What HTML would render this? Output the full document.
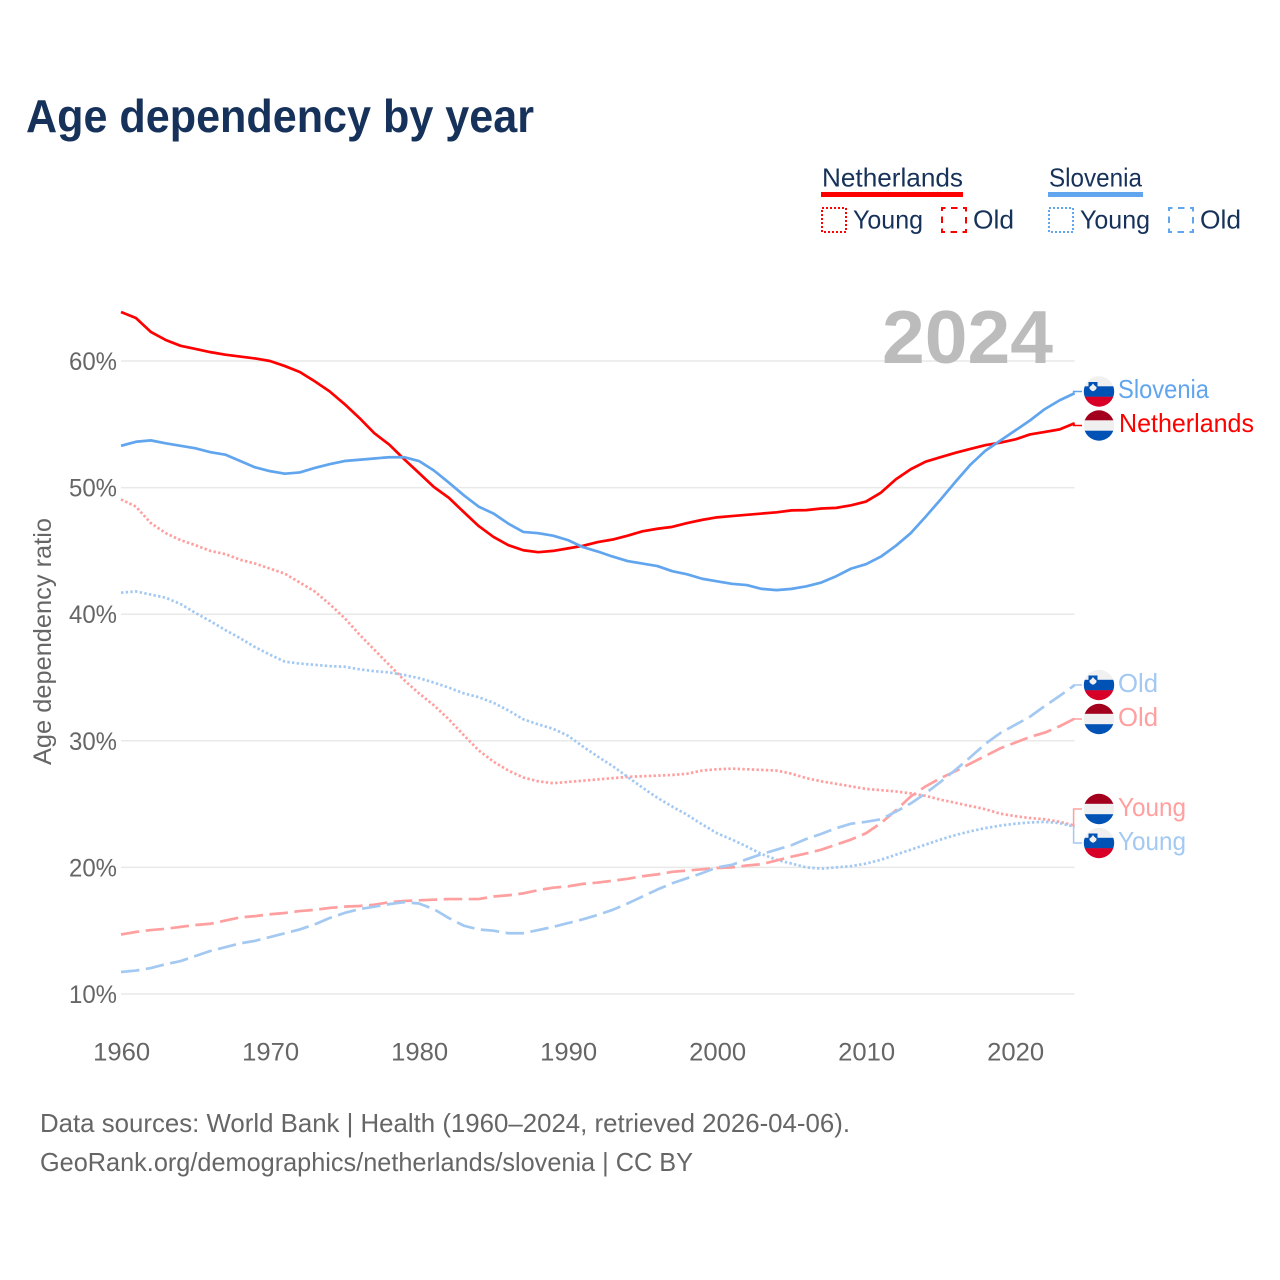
<!DOCTYPE html>
<html lang="en">
<head>
<meta charset="utf-8">
<title>Age dependency by year</title>
<style>
html,body{margin:0;padding:0;background:#fff;}
svg{display:block;font-family:"Liberation Sans",sans-serif;}
.lg{font-size:26px;fill:#17325a;}
.ax{font-size:25px;fill:#666;}
.src{font-size:26px;fill:#666;}
.lb{font-size:26px;}
</style>
</head>
<body>
<svg id="chart" width="1280" height="1280" viewBox="0 0 1280 1280" xmlns="http://www.w3.org/2000/svg">
  <defs>
    <clipPath id="flag-clip"><circle cx="0" cy="0" r="15.2"/></clipPath>
    <g id="flag-nl" clip-path="url(#flag-clip)">
      <rect x="-16" y="-16" width="32" height="11" fill="#a2001d"/>
      <rect x="-16" y="-5.2" width="32" height="10.6" fill="#f0f0f0"/>
      <rect x="-16" y="5.2" width="32" height="11" fill="#0052b4"/>
    </g>
    <g id="flag-si" clip-path="url(#flag-clip)">
      <rect x="-16" y="-16" width="32" height="11" fill="#f0f0f0"/>
      <rect x="-16" y="-5.2" width="32" height="10.6" fill="#0052b4"/>
      <rect x="-16" y="5.2" width="32" height="11" fill="#d80027"/>
      <path d="M-10.5 -9.5h9v6.5c0 2 -2.200 3.300 -4.500 4.200c-2.300 -.9 -4.500 -2.200 -4.500 -4.200z" fill="#0052b4"/>
      <path d="M-9.500 -4.500l2 -1.500l1.500 -2l1.500 2l2 1.500v1.500c-.8 1.500 -2.200 2.300 -3.500 2.700c-1.300 -.4 -2.700 -1.200 -3.500 -2.700z" fill="#f0f0f0"/>
    </g>
  </defs>

  <text x="26" y="132" font-size="46" font-weight="700" fill="#17325a" textLength="508" lengthAdjust="spacingAndGlyphs">Age dependency by year</text>

  <g>
    <g>
      <text class="lg" x="822" y="186.500" textLength="141" lengthAdjust="spacingAndGlyphs">Netherlands</text>
      <rect x="821" y="192" width="142" height="5" fill="#ff0000"/>
      <rect x="822" y="208" width="24" height="24" fill="none" stroke="#ff0000" stroke-width="2" stroke-dasharray="2 2"/>
      <text class="lg" x="853" y="228.500" textLength="70" lengthAdjust="spacingAndGlyphs">Young</text>
      <rect x="942" y="208" width="24" height="24" fill="none" stroke="#ff0000" stroke-width="2" stroke-dasharray="6.500 5.500" stroke-dashoffset="3"/>
      <text class="lg" x="973" y="228.500" textLength="41" lengthAdjust="spacingAndGlyphs">Old</text>
    </g>
    <g>
      <text class="lg" x="1049" y="186.500" textLength="93" lengthAdjust="spacingAndGlyphs">Slovenia</text>
      <rect x="1048" y="192" width="95" height="5" fill="#60a5ee"/>
      <rect x="1049" y="208" width="24" height="24" fill="none" stroke="#60a5ee" stroke-width="2" stroke-dasharray="2 2"/>
      <text class="lg" x="1080" y="228.500" textLength="70" lengthAdjust="spacingAndGlyphs">Young</text>
      <rect x="1169" y="208" width="24" height="24" fill="none" stroke="#60a5ee" stroke-width="2" stroke-dasharray="6.500 5.500" stroke-dashoffset="3"/>
      <text class="lg" x="1200" y="228.500" textLength="41" lengthAdjust="spacingAndGlyphs">Old</text>
    </g>
  </g>

  <g id="grid"></g>
  <g id="y-ticks"></g>
  <g id="x-ticks"></g>
  <text class="ax" transform="translate(51,641.500) rotate(-90)" text-anchor="middle" textLength="247" lengthAdjust="spacingAndGlyphs">Age dependency ratio</text>
  <text x="882" y="363" font-size="75" font-weight="700" fill="#bcbcbc" textLength="171" lengthAdjust="spacingAndGlyphs">2024</text>

  <g id="series"></g>
  <g id="leaders"></g>

  <g>
    <use href="#flag-si" x="1099" y="391.500"/>
    <text class="lb" x="1118" y="398" fill="#60a5ee" textLength="91" lengthAdjust="spacingAndGlyphs">Slovenia</text>
    <use href="#flag-nl" x="1099" y="425.500"/>
    <text class="lb" x="1119" y="432" fill="#ff0000" textLength="135" lengthAdjust="spacingAndGlyphs">Netherlands</text>
    <use href="#flag-si" x="1099" y="685"/>
    <text class="lb" x="1118" y="692" fill="#a3c9f3" textLength="40" lengthAdjust="spacingAndGlyphs">Old</text>
    <use href="#flag-nl" x="1099" y="719"/>
    <text class="lb" x="1118" y="726" fill="#ff9f9f" textLength="40" lengthAdjust="spacingAndGlyphs">Old</text>
    <use href="#flag-nl" x="1099" y="809"/>
    <text class="lb" x="1118" y="816" fill="#ff9f9f" textLength="68" lengthAdjust="spacingAndGlyphs">Young</text>
    <use href="#flag-si" x="1099" y="843"/>
    <text class="lb" x="1118" y="850" fill="#a3c9f3" textLength="68" lengthAdjust="spacingAndGlyphs">Young</text>
  </g>

  <g>
    <text class="src" x="40" y="1132" textLength="810" lengthAdjust="spacingAndGlyphs">Data sources: World Bank | Health (1960–2024, retrieved 2026-04-06).</text>
    <text class="src" x="40" y="1171" textLength="653" lengthAdjust="spacingAndGlyphs">GeoRank.org/demographics/netherlands/slovenia | CC BY</text>
  </g>
</svg>

<script>
const startYear = 1960;
const yTickValues = [10, 20, 30, 40, 50, 60];
const xTickValues = [1960, 1970, 1980, 1990, 2000, 2010, 2020];

const nlTotal = [63.87,63.4,62.3,61.66,61.2,60.95,60.7,60.5,60.35,60.2,60.0,59.6,59.13,58.4,57.6,56.6,55.5,54.3,53.4,52.25,51.15,50.05,49.2,48.07,46.97,46.1,45.45,45.05,44.9,45.0,45.2,45.4,45.7,45.9,46.2,46.55,46.75,46.9,47.2,47.45,47.65,47.75,47.85,47.95,48.05,48.2,48.22,48.35,48.4,48.6,48.9,49.6,50.65,51.45,52.05,52.4,52.75,53.05,53.35,53.55,53.8,54.2,54.4,54.6,55.08];
const siTotal = [53.3,53.62,53.73,53.5,53.3,53.1,52.8,52.6,52.1,51.6,51.3,51.1,51.2,51.55,51.85,52.1,52.2,52.3,52.4,52.4,52.1,51.35,50.4,49.4,48.5,47.95,47.15,46.5,46.4,46.2,45.85,45.3,44.95,44.55,44.2,44.0,43.8,43.4,43.15,42.8,42.6,42.4,42.3,42.0,41.9,42.0,42.2,42.5,43.0,43.6,43.95,44.55,45.4,46.4,47.7,49.05,50.45,51.8,52.9,53.7,54.5,55.3,56.2,56.9,57.45];
const nlYoung = [49.07,48.5,47.2,46.4,45.85,45.45,45.0,44.75,44.3,44.0,43.6,43.2,42.5,41.8,40.8,39.7,38.4,37.2,36.0,34.8,33.75,32.8,31.7,30.45,29.25,28.35,27.65,27.1,26.8,26.65,26.75,26.85,26.95,27.05,27.15,27.2,27.25,27.3,27.4,27.65,27.75,27.8,27.75,27.7,27.65,27.4,27.05,26.8,26.6,26.4,26.2,26.1,26.0,25.85,25.65,25.35,25.1,24.85,24.6,24.25,24.05,23.9,23.8,23.6,23.3];
const siYoung = [41.7,41.8,41.55,41.3,40.8,40.1,39.45,38.75,38.1,37.4,36.8,36.25,36.1,36.0,35.9,35.85,35.65,35.5,35.4,35.2,34.95,34.6,34.2,33.75,33.45,33.0,32.4,31.7,31.3,30.95,30.4,29.55,28.75,28.0,27.15,26.3,25.5,24.8,24.15,23.4,22.7,22.2,21.65,21.05,20.6,20.3,20.0,19.9,20.0,20.1,20.3,20.6,21.0,21.4,21.8,22.2,22.55,22.85,23.1,23.3,23.45,23.55,23.6,23.5,23.2];
const nlOld = [14.7,14.9,15.05,15.15,15.3,15.45,15.55,15.8,16.05,16.15,16.3,16.4,16.55,16.65,16.8,16.9,16.95,17.05,17.25,17.35,17.4,17.45,17.5,17.5,17.5,17.7,17.8,17.95,18.2,18.4,18.5,18.7,18.8,18.95,19.1,19.3,19.45,19.65,19.75,19.85,19.95,20.0,20.15,20.25,20.55,20.85,21.1,21.4,21.8,22.2,22.7,23.5,24.5,25.6,26.4,27.05,27.6,28.2,28.8,29.4,29.85,30.3,30.65,31.15,31.75];
const siOld = [11.74,11.85,12.05,12.35,12.6,13.0,13.4,13.7,14.0,14.2,14.5,14.8,15.1,15.5,16.0,16.4,16.7,16.9,17.1,17.25,17.15,16.7,16.0,15.4,15.1,15.0,14.8,14.8,15.05,15.3,15.6,15.9,16.25,16.65,17.15,17.7,18.25,18.75,19.15,19.55,20.0,20.2,20.65,21.05,21.4,21.75,22.25,22.65,23.1,23.45,23.6,23.8,24.4,25.05,25.85,26.75,27.7,28.7,29.75,30.6,31.25,31.9,32.75,33.55,34.4];

const NS = 'http://www.w3.org/2000/svg';
function xScale(year) { return 121 + (year - 1960) * 14.9; }
function yScale(pct) { return 994 - (pct - 10) * 12.66; }

const gridG = document.getElementById('grid');
const yTicksG = document.getElementById('y-ticks');
const xTicksG = document.getElementById('x-ticks');
const seriesG = document.getElementById('series');
const leadersG = document.getElementById('leaders');

yTickValues.forEach(function (v) {
  const line = document.createElementNS(NS, 'line');
  
  
  line.setAttribute('x1', 121);
  line.setAttribute('x2', xScale(2024));
  line.setAttribute('y1', yScale(v));
  line.setAttribute('y2', yScale(v));
  line.setAttribute('stroke', '#e9e9e9');
  line.setAttribute('stroke-width', '1.5');
  gridG.appendChild(line);

  const label = document.createElementNS(NS, 'text');
  
  
  label.setAttribute('class', 'ax');
  label.setAttribute('x', 117);
  label.setAttribute('y', yScale(v) + 9);
  label.setAttribute('text-anchor', 'end');
  label.setAttribute('textLength', '48');
  label.setAttribute('lengthAdjust', 'spacingAndGlyphs');
  label.textContent = v + '%';
  yTicksG.appendChild(label);
});

xTickValues.forEach(function (v) {
  const label = document.createElementNS(NS, 'text');
  
  
  label.setAttribute('class', 'ax');
  label.setAttribute('x', xScale(v) + 0.7);
  label.setAttribute('y', 1060.5);
  label.setAttribute('text-anchor', 'middle');
  label.setAttribute('textLength', '57');
  label.setAttribute('lengthAdjust', 'spacingAndGlyphs');
  label.textContent = v;
  xTicksG.appendChild(label);
});

function pathFor(values) {
  return values.map(function (v, i) {
    return (i ? 'L' : 'M') + xScale(startYear + i).toFixed(2) + ' ' + yScale(v).toFixed(2);
  }).join('');
}

function drawSeries(name, values, color, dash) {
  const p = document.createElementNS(NS, 'path');
  
  
  p.setAttribute('d', pathFor(values));
  p.setAttribute('fill', 'none');
  p.setAttribute('stroke', color);
  p.setAttribute('stroke-width', '2.7');
  p.setAttribute('stroke-linejoin', 'round');
  if (dash) p.setAttribute('stroke-dasharray', dash);
  seriesG.appendChild(p);
}

function drawLeader(name, values, color, labelY) {
  const endY = yScale(values[values.length - 1]);
  const x = xScale(2024);
  const p = document.createElementNS(NS, 'path');
  
  
  p.setAttribute('d', 'M' + x + ' ' + endY + 'L' + (x - 1) + ' ' + endY + 'L' + (x - 1) + ' ' + labelY + 'L1082 ' + labelY);
  p.setAttribute('fill', 'none');
  p.setAttribute('stroke', color);
  p.setAttribute('stroke-width', '1.5');
  leadersG.appendChild(p);
}

const dotted = '2.4 2.3';
const dashed = '18.5 6.5';
drawSeries('line-netherlands-young', nlYoung, '#ff9f9f', dotted);
drawSeries('line-slovenia-young', siYoung, '#a3c9f3', dotted);
drawSeries('line-netherlands-old', nlOld, '#ff9f9f', dashed);
drawSeries('line-slovenia-old', siOld, '#a3c9f3', dashed);
drawSeries('line-netherlands-total', nlTotal, '#ff0000', null);
drawSeries('line-slovenia-total', siTotal, '#60a5ee', null);

drawLeader('leader-netherlands-total', nlTotal, '#ff0000', 425.5);
drawLeader('leader-slovenia-total', siTotal, '#60a5ee', 391.5);
drawLeader('leader-netherlands-old', nlOld, '#ff9f9f', 719);
drawLeader('leader-slovenia-old', siOld, '#a3c9f3', 685);
drawLeader('leader-netherlands-young', nlYoung, '#ff9f9f', 809);
drawLeader('leader-slovenia-young', siYoung, '#a3c9f3', 843);
</script>
</body>
</html>
